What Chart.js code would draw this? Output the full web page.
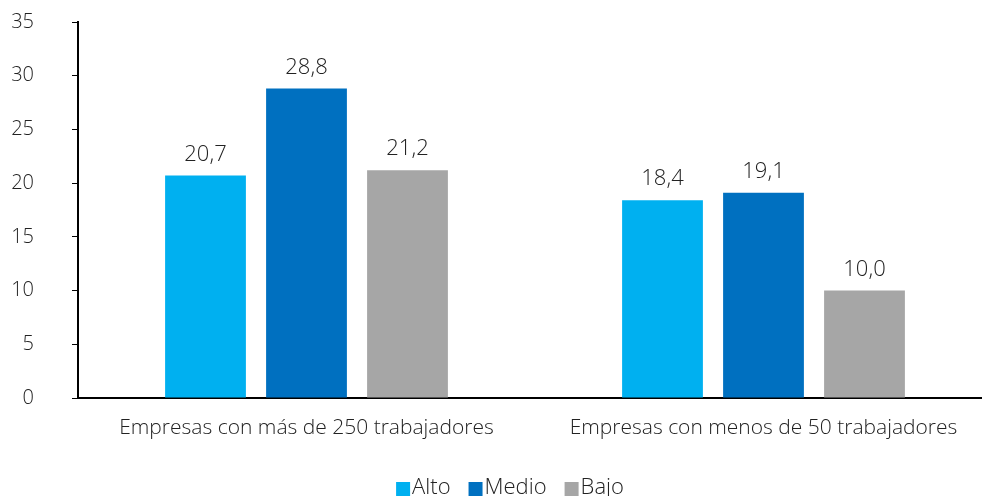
<!DOCTYPE html>
<html>
<head>
<meta charset="utf-8">
<script src="https://cdn.jsdelivr.net/npm/chart.js@4.4.1/dist/chart.umd.min.js"></script>
<style>
    html, body { margin: 0; padding: 0; background: #fff; overflow: hidden; }
    #wrap { width: 992px; height: 496px; }
</style>
</head>
<body>
<div id="wrap"><canvas id="barChart"></canvas></div>
<script>
const categories = ['Empresas con más de 250 trabajadores', 'Empresas con menos de 50 trabajadores'];
const alto = [20.7, 18.4];
const medio = [28.8, 19.1];
const bajo = [21.2, 10.0];
const yTicks = [0, 5, 10, 15, 20, 25, 30, 35];

const FONT = "'Open Sans', 'DejaVu Sans', sans-serif";
const TEXT = '#222';
const fmt = v => v.toFixed(1).replace('.', ',');

// etiquetas con el valor encima de cada barra
const valueLabels = {
    id: 'valueLabels',
    afterDatasetsDraw(chart) {
        const ctx = chart.ctx;
        ctx.save();
        ctx.font = `300 22px ${FONT}`;
        ctx.fillStyle = TEXT;
        ctx.textAlign = 'center';
        ctx.textBaseline = 'alphabetic';
        chart.data.datasets.forEach((ds, i) => {
            chart.getDatasetMeta(i).data.forEach((bar, j) => {
                ctx.fillText(fmt(ds.data[j]), bar.x, bar.y - 15);
            });
        });
        ctx.restore();
    }
};

// leyenda compacta abajo: cuadrado pegado al texto
const bottomLegend = {
    id: 'bottomLegend',
    afterDraw(chart) {
        const ctx = chart.ctx;
        const box = 14, gapText = 2, gapItem = 18, cx = 510, cy = 488;
        ctx.save();
        ctx.font = `300 22px ${FONT}`;
        ctx.textBaseline = 'middle';
        ctx.textAlign = 'left';
        const items = chart.data.datasets.map(ds => ({
            label: ds.label, color: ds.backgroundColor, w: ctx.measureText(ds.label).width
        }));
        const total = items.reduce((s, it) => s + box + gapText + it.w, 0) + gapItem * (items.length - 1);
        let x = cx - total / 2;
        items.forEach(it => {
            ctx.fillStyle = it.color;
            ctx.fillRect(x, cy - box / 2 + 1, box, box);
            ctx.fillStyle = TEXT;
            ctx.fillText(it.label, x + box + gapText, cy);
            x += box + gapText + it.w + gapItem;
        });
        ctx.restore();
    }
};

const $ = id => document.getElementById(id);
new Chart($('barChart').getContext('2d'), {
    type: 'bar',
    data: {
        labels: categories,
        datasets: [
            { label: 'Alto', data: alto, backgroundColor: '#00B0F0' },
            { label: 'Medio', data: medio, backgroundColor: '#0070C0' },
            { label: 'Bajo', data: bajo, backgroundColor: '#A6A6A6' }
        ]
    },
    options: {
        responsive: true,
        maintainAspectRatio: false,
        animation: false,
        categoryPercentage: 0.663,
        barPercentage: 0.8,
        layout: { padding: { left: 10, top: 22, right: 0, bottom: 38 } },
        plugins: {
            legend: { display: false },
            tooltip: { enabled: false }
        },
        scales: {
            x: {
                grid: { display: false },
                border: { display: true, color: '#000', width: 2 },
                ticks: {
                    color: TEXT,
                    padding: 9,
                    maxRotation: 0,
                    font: { family: FONT, size: 21, weight: '300' }
                },
                afterFit: axis => {
                    axis.height = 60;
                    axis.paddingLeft = 0;
                    axis.paddingRight = 0;
                }
            },
            y: {
                min: 0,
                max: 35,
                afterBuildTicks: axis => { axis.ticks = yTicks.map(v => ({ value: v })); },
                grid: { drawOnChartArea: false, drawTicks: true, tickLength: 6, color: '#000', width: 2 },
                border: { display: true, color: '#000', width: 2 },
                ticks: {
                    color: TEXT,
                    padding: 38,
                    font: { family: FONT, size: 20, weight: '300' }
                },
                afterFit: axis => {
                    axis.width = 68;
                    axis.paddingTop = 0;
                    axis.paddingBottom = 0;
                }
            }
        }
    },
    plugins: [valueLabels, bottomLegend]
});
</script>
</body>
</html>
